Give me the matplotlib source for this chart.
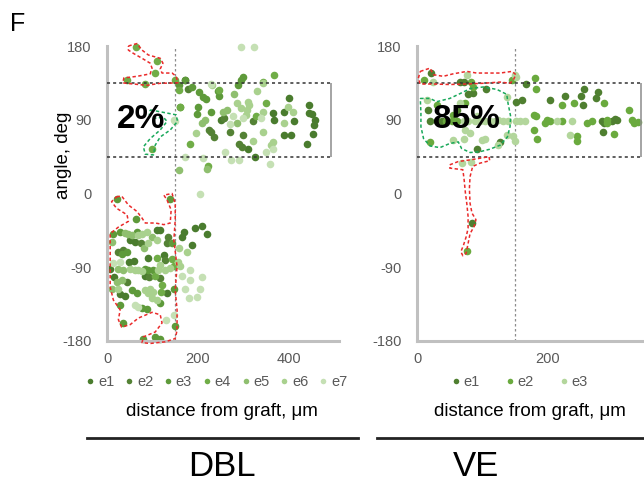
import matplotlib
matplotlib.use('Agg')
import matplotlib.pyplot as plt
from matplotlib.lines import Line2D

plt.rcParams['font.family'] = ['Liberation Sans', 'DejaVu Sans']
plt.rcParams['axes.unicode_minus'] = False

# colours of the embryos
dbl_colors = ['#4a7c2e', '#548235', '#5e9a3a', '#70ad47', '#8fbf6f', '#a9d18e', '#c5e0b4']
ve_colors = ['#4f7f30', '#6aaa3e', '#b3d69c']

# DBL data (x = distance from graft in um, y = angle in deg)
dbl_e1_x = [364, 368, 390, 401, 412, 390, 404, 443, 445, 451, 458, 456, 452, 439, 309, 325, 250, 172,
            110, 117, 51, 62, 49, 60, 7, 91, 125, 84, 16, 29, 40, 132, 194, 209, 219, 169, 164, 186]
dbl_e1_y = [98, 90, 100, 117, 88, 71, 71, 108, 98, 97, 90, 84, 73, 60, 54, 45, 90, 139,
            -44, -45, -57, -59, -83, -82, -92, -79, -75, -101, -102, -123, -125, -122, -42, -40, -50, -47, -53, -63]
dbl_e2_x = [257, 178, 224, 228, 235, 290, 296, 270, 298, 135, 132, 25, 36, 128, 93, 44, 117, 75, 320]
dbl_e2_y = [92, 128, 78, 75, 69, 61, 57, 75, 71, -53, -61, -71, -69, -81, -102, -108, -103, -61, 88]
dbl_e3_x = [172, 159, 186, 202, 212, 217, 245, 247, 298, 295, 289, 200, 161, 198, 228,
            21, 139, 63, 14, 29, 66, 143, 44, 33, 84, 91, 102, 55, 66, 147, 117, 29, 77, 88, 150, 36, 105, 117, 80]
dbl_e3_y = [138, 132, 130, 124, 118, 115, 125, 119, 142, 139, 132, 106, 106, 97, 100,
            -7, -7, -31, -49, -47, -47, -61, -71, -74, -92, -93, -93, -118, -122, -117, -134, -136, -140, -141, -162, -158, -175, -177, -178]
dbl_e4_x = [327, 183, 222, 349, 246, 344, 367, 64, 110, 106, 43, 84, 150, 158, 161, 99,
            143, 110, 106, 119, 121, 147]
dbl_e4_y = [94, 61, 33, 110, 126, 136, 145, 179, 162, 147, 138, 134, 139, 126, 106, 54,
            -80, -79, -101, -120, -112, -89]
dbl_e5_x = [264, 215, 209, 279, 158, 220, 286, 255, 12, 40, 47, 55, 99, 82, 25, 36, 21, 32, 10]
dbl_e5_y = [102, 90, 86, 121, 29, 30, 86, 100, -59, -48, -49, -51, -53, -66, -92, -93, -108, -106, -116]
dbl_e6_x = [230, 343, 312, 308, 305, 343, 397, 408, 390, 342, 196, 321, 364, 360, 285, 295, 330, 310,
            69, 77, 88, 110, 91, 51, 62, 69, 77, 117, 113, 128, 139, 25, 84, 95, 91, 102, 99, 110, 159, 176, 156, 161]
dbl_e6_y = [132, 135, 108, 102, 96, 100, 106, 99, 86, 75, 74, 64, 63, 59, 110, 104, 125, 112,
            -51, -49, -47, -57, -61, -92, -93, -93, -94, -87, -93, -93, -91, -116, -118, -117, -122, -120, -128, -130, -66, -71, -83, -88]
dbl_e7_x = [277, 294, 323, 349, 364, 259, 272, 290, 211, 358, 228, 147, 150, 171, 300, 338, 270,
            29, 14, 62, 69, 130, 147, 204, 183, 183, 208, 205, 198, 180, 172, 164]
dbl_e7_y = [94, 179, 179, 51, 54, 51, 41, 41, 43, 36, 134, 90, 88, 45, 92, 92, 85,
            -84, -85, -136, -138, -154, -148, -1, -93, -106, -102, -117, -126, -127, -117, -101]

# VE data
ve_e1_x = [22, 66, 71, 167, 78, 86, 106, 17, 20, 30, 38, 127, 91, 151, 160, 203, 226, 255, 250, 254,
           277, 274, 282, 285, 297, 302, 305, 284, 84, 61]
ve_e1_y = [147, 136, 136, 134, 122, 123, 128, 102, 88, 88, 88, 63, 54, 112, 114, 114, 119, 127, 119, 108,
           124, 116, 88, 86, 88, 91, 90, 75, -36, 102]
ve_e2_x = [10, 83, 145, 180, 182, 86, 30, 73, 55, 45, 53, 61, 20, 178, 182, 198, 195, 203, 179, 183,
           222, 239, 259, 244, 244, 285, 267, 290, 290, 301, 323, 329, 331, 337, 221, 76]
ve_e2_y = [138, 136, 138, 141, 127, 130, 108, 110, 96, 88, 88, 88, 63, 96, 95, 90, 86, 88, 77, 67,
           108, 110, 86, 70, 64, 110, 88, 90, 86, 73, 102, 90, 86, 87, 89, -70]
ve_e3_x = [25, 76, 150, 151, 15, 66, 71, 78, 89, 96, 104, 111, 119, 124, 132, 139, 91, 73, 81, 99, 104,
           71, 55, 124, 137, 147, 150, 137, 151, 157, 165, 213, 236, 234, 68, 83]
ve_e3_y = [136, 145, 145, 142, 114, 110, 88, 88, 89, 89, 88, 89, 88, 90, 88, 89, 95, 77, 74, 65, 67,
           67, 65, 59, 71, 70, 64, 118, 89, 89, 89, 89, 89, 71, 37, 38]

# hand drawn outlines (data coordinates)
dbl_red_top_x = [47, 66, 77, 91, 117, 123, 117, 121, 143, 152, 156, 117, 88, 51, 35, 37, 66, 95, 99, 95, 77, 58, 47, 47]
dbl_red_top_y = [180, 183, 175, 169, 165, 159, 152, 147, 147, 143, 135, 134.5, 132, 134, 135, 141, 143, 146, 153, 159, 165, 171, 175, 180]
dbl_green_x = [95, 124, 152, 155, 139, 117, 106, 102, 84, 80, 95, 117, 132, 124, 106, 93, 95]
dbl_green_y = [102, 99, 96, 88, 77.5, 69, 59, 47, 48, 57, 67, 77.5, 88, 93, 92, 96, 102]
dbl_red_bot_x = [21, 32, 47, 66, 77, 84, 106, 125, 139, 141, 132, 125, 143, 150, 150, 147, 154, 150, 154, 154,
                 150, 128, 95, 77, 80, 106, 121, 117, 99, 69, 51, 32, 25, 29, 14, 7, 7, 7, 25, 47, 44, 21, 10, 21]
dbl_red_bot_y = [-4, -3, -14, -22, -30, -36, -36, -38, -36, -20, -8, -2, 0, -12, -32, -57, -89, -118, -142, -167,
                 -177, -181, -183, -182, -175, -169, -158, -148, -145, -152, -160, -163, -154, -142, -130, -114, -77, -49, -41, -34, -26, -18, -10, -4]
ve_red_top_x = [5, 20, 25, 40, 55, 76, 91, 111, 127, 145, 151, 147, 142, 127, 101, 76, 50, 25, 5, 2, 5]
ve_red_top_y = [149, 153, 145, 143, 146, 149, 147, 147, 147, 149, 145, 138.5, 134.5, 136, 134.5, 133.6, 133, 133.6, 133.6, 140.6, 149]
ve_green_x = [5, 20, 30, 50, 66, 81, 101, 122, 137, 139, 143, 142, 138, 127, 111, 96, 81, 68, 63, 50, 35, 20, 10, 6, 6, 5]
ve_green_y = [116, 116, 112, 116, 122, 128, 130, 127, 121, 110, 94, 81.5, 69, 59, 54, 51, 50, 55, 63, 61, 56, 58, 67, 81.5, 98, 116]
ve_red_bot_x = [50, 63, 81, 96, 110, 111, 96, 85, 81, 80, 81, 84, 90, 87, 81, 78, 75, 70, 67, 71, 75, 78, 78, 76, 74, 72, 70, 50, 50]
ve_red_bot_y = [35, 39, 41, 43, 45, 40, 37, 33, 20.5, 6, -12, -24, -32, -40.5, -49, -61, -73, -76, -71, -63, -53, -42.5, -28, -12, 0, 16.5, 29, 31, 35]

dbl_x = [dbl_e1_x, dbl_e2_x, dbl_e3_x, dbl_e4_x, dbl_e5_x, dbl_e6_x, dbl_e7_x]
dbl_y = [dbl_e1_y, dbl_e2_y, dbl_e3_y, dbl_e4_y, dbl_e5_y, dbl_e6_y, dbl_e7_y]
ve_x = [ve_e1_x, ve_e2_x, ve_e3_x]
ve_y = [ve_e1_y, ve_e2_y, ve_e3_y]

W, H = 644, 482
fig = plt.figure(figsize=(W / 100, H / 100), dpi=100)
ax1 = fig.add_axes([107 / W, 1 - 341 / H, 232 / W, 295 / H])
ax2 = fig.add_axes([417 / W, 1 - 341 / H, 262 / W, 295 / H])

grey = '#595959'
for ax, xmax, band_end, xt in [(ax1, 510, 493, [0, 200, 400]), (ax2, 400, 342, [0, 200])]:
    ax.set_xlim(0, xmax)
    ax.set_ylim(-180, 180)
    ax.set_yticks([-180, -90, 0, 90, 180])
    ax.set_xticks(xt)
    ax.tick_params(length=0, pad=11, labelcolor=grey, labelsize=10.5)
    ax.tick_params(axis='x', pad=8)
    for s in ['top', 'right']:
        ax.spines[s].set_visible(False)
    for s in ['left', 'bottom']:
        ax.spines[s].set_color('#c0c0c0')
        ax.spines[s].set_linewidth(2.2)
    ax.axvline(150, color='#8c8c8c', ls=(0, (2, 2)), lw=0.9, zorder=1)
    ax.hlines([45, 135], 0, band_end, colors='#333333', linestyles=(0, (2, 2)), lw=1.1, zorder=4)
    ax.vlines(band_end, 45, 135, colors='#8c8c8c', lw=1.1, zorder=4)

for xs, ys, c in zip(dbl_x, dbl_y, dbl_colors):
    ax1.scatter(xs, ys, s=30, color=c, linewidths=0, zorder=2, clip_on=False)
for xs, ys, c in zip(ve_x, ve_y, ve_colors):
    ax2.scatter(xs, ys, s=30, color=c, linewidths=0, zorder=2, clip_on=False)

red = '#ea2a2a'
green = '#19a85a'
dash = (0, (2.2, 1.6))
ax1.plot(dbl_red_top_x, dbl_red_top_y, color=red, ls=dash, lw=1.1, zorder=5, clip_on=False)
ax1.plot(dbl_red_bot_x, dbl_red_bot_y, color=red, ls=dash, lw=1.1, zorder=5, clip_on=False)
ax1.plot(dbl_green_x, dbl_green_y, color=green, ls=dash, lw=1.1, zorder=5)
ax2.plot(ve_red_top_x, ve_red_top_y, color=red, ls=dash, lw=1.1, zorder=5)
ax2.plot(ve_red_bot_x, ve_red_bot_y, color=red, ls=dash, lw=1.1, zorder=5)
ax2.plot(ve_green_x, ve_green_y, color=green, ls=dash, lw=1.1, zorder=5)

ax1.text(75, 90, '2%', fontsize=24, fontweight='bold', ha='center', va='center', zorder=6)
ax2.text(75, 90, '85%', fontsize=24, fontweight='bold', ha='center', va='center', zorder=6)

# legends
h1 = [Line2D([], [], ls='', marker='o', ms=4, mew=0, color=c) for c in dbl_colors]
fig.legend(h1, ['e%d' % (i + 1) for i in range(7)], loc='center', ncol=7,
           bbox_to_anchor=(217 / W, 1 - 382 / H), frameon=False, fontsize=10.5,
           handlelength=0.5, handletextpad=0.3, columnspacing=0.75, labelcolor=grey)
h2 = [Line2D([], [], ls='', marker='o', ms=4, mew=0, color=c) for c in ve_colors]
fig.legend(h2, ['e1', 'e2', 'e3'], loc='center', ncol=3,
           bbox_to_anchor=(520 / W, 1 - 382 / H), frameon=False, fontsize=10.5,
           handlelength=0.5, handletextpad=0.3, columnspacing=1.8, labelcolor=grey)

fig.text(222 / W, 1 - 411 / H, 'distance from graft, \u03bcm', fontsize=13.5, ha='center', va='center')
fig.text(530 / W, 1 - 411 / H, 'distance from graft, \u03bcm', fontsize=13.5, ha='center', va='center')
fig.text(64 / W, 1 - 155 / H, 'angle, deg', fontsize=13.5, rotation=90, ha='center', va='center')
fig.text(10 / W, 1 - 24 / H, 'F', fontsize=18, ha='left', va='center')

fig.add_artist(Line2D([87 / W, 358 / W], [1 - 438 / H] * 2, color='#222222', lw=2))
fig.add_artist(Line2D([377 / W, 1.0], [1 - 438 / H] * 2, color='#222222', lw=2))
fig.text(222 / W, 1 - 466 / H, 'DBL', fontsize=25, ha='center', va='center')
fig.text(476 / W, 1 - 466 / H, 'VE', fontsize=25, ha='center', va='center')

fig.savefig('out.png', dpi=100)
